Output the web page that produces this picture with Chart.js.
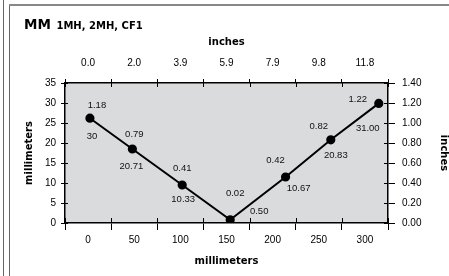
<!DOCTYPE html>
<html lang="en">
    <head>
        <meta charset="UTF-8" />
        <title>MM 1MH, 2MH, CF1</title>
        <script src="https://cdn.jsdelivr.net/npm/chart.js"></script>
        <style>
            html, body { margin: 0; padding: 0; background: #fff; }
            #frame { position: relative; width: 449px; height: 276px; overflow: hidden; }
            #frame canvas { position: absolute; left: 0; top: 0; }
            #outerLine { position: absolute; left: 3px; top: 0; height: 276px; border-left: 1.5px solid #666; }
            #innerLine { position: absolute; left: 9px; top: 4px; height: 272px; border-left: 1.5px solid #666; }
            #topLine { position: absolute; left: 9px; right: 0; top: 4px; border-top: 2px solid #888; }
            #heading {
                position: absolute; left: 24px; top: 17px; line-height: 14px;
                font-family: 'DejaVu Sans', sans-serif; font-weight: bold; color: #000; white-space: nowrap;
            }
            #heading .big { font-size: 13.5px; }
            #heading .small { font-size: 10px; }
        </style>
    </head>
    <body>
        <div id="frame">
            <canvas id="chart" width="449" height="276"></canvas>
            <div id="outerLine"></div>
            <div id="innerLine"></div>
            <div id="topLine"></div>
            <div id="heading"><span class="big">MM</span> <span class="small">1MH, 2MH, CF1</span></div>
        </div>

        <script>
            // where the points sit (mm along, mm up), as drawn in the picture
            const mmAlong = [2, 48, 102, 154, 214, 263, 315];
            const mmUp = [26.2, 18.5, 9.5, 0.8, 11.5, 20.8, 29.9];
            // printed values beside each point
            const inchLabels = ['1.18', '0.79', '0.41', '0.02', '0.42', '0.82', '1.22'];
            const mmLabels = ['30', '20.71', '10.33', '0.50', '10.67', '20.83', '31.00'];
            // axis ticks
            const bottomTicks = [0, 50, 100, 150, 200, 250, 300];
            const topTickLabels = ['0.0', '2.0', '3.9', '5.9', '7.9', '9.8', '11.8'];
            const leftTicks = [0, 5, 10, 15, 20, 25, 30, 35];
            const rightTicks = [0, 0.2, 0.4, 0.6, 0.8, 1.0, 1.2, 1.4];
            const rightTickLabels = ['0.00', '0.20', '0.40', '0.60', '0.80', '1.00', '1.20', '1.40'];

            const tickFont = { family: "'Liberation Sans', Arial, sans-serif", size: 10 };
            const titleFont = { family: "'DejaVu Sans', sans-serif", size: 10, weight: 'bold' };

            const plotBackground = {
                id: 'plotBackground',
                beforeDraw(chart) {
                    const { ctx, chartArea: a } = chart;
                    ctx.save();
                    ctx.fillStyle = '#dadbdc';
                    ctx.fillRect(a.left, a.top, a.right - a.left, a.bottom - a.top);
                    ctx.restore();
                },
            };

            // tick marks in the original cross the axis line, so add the inner half
            const innerTicks = {
                id: 'innerTicks',
                afterDraw(chart) {
                    const { ctx, chartArea: a, scales } = chart;
                    ctx.save();
                    ctx.strokeStyle = '#000';
                    ctx.lineWidth = 1;
                    ctx.beginPath();
                    ['x', 'x2'].forEach((id) => {
                        const s = scales[id];
                        const t = s.ticks.map((k) => k.value);
                        const half = (t[1] - t[0]) / 2;
                        const edges = [t[0] - half].concat(t.map((v) => v + half));
                        edges.forEach((v) => {
                            const px = Math.round(s.getPixelForValue(v)) + 0.5;
                            if (id === 'x') {
                                ctx.moveTo(px, a.bottom);
                                ctx.lineTo(px, a.bottom - 5);
                            } else {
                                ctx.moveTo(px, a.top);
                                ctx.lineTo(px, a.top + 4);
                            }
                        });
                    });
                    scales.y.ticks.forEach((k) => {
                        const py = Math.round(scales.y.getPixelForValue(k.value)) + 0.5;
                        ctx.moveTo(a.left, py);
                        ctx.lineTo(a.left + 3, py);
                    });
                    scales.y2.ticks.forEach((k) => {
                        const py = Math.round(scales.y2.getPixelForValue(k.value)) + 0.5;
                        ctx.moveTo(a.right, py);
                        ctx.lineTo(a.right - 4, py);
                    });
                    ctx.stroke();
                    ctx.restore();
                },
            };

            const pointLabels = {
                id: 'pointLabels',
                afterDatasetsDraw(chart, args, opts) {
                    const ctx = chart.ctx;
                    const meta = chart.getDatasetMeta(0);
                    ctx.save();
                    ctx.font = "9.5px 'Liberation Sans', Arial, sans-serif";
                    ctx.fillStyle = '#111';
                    ctx.textAlign = 'center';
                    ctx.textBaseline = 'middle';
                    meta.data.forEach((pt, i) => {
                        const up = opts.upper[i];
                        const low = opts.lower[i];
                        ctx.fillText(inchLabels[i], pt.x + up[0], pt.y + up[1]);
                        ctx.fillText(mmLabels[i], pt.x + low[0], pt.y + low[1]);
                    });
                    ctx.restore();
                },
            };

            function setTicks(values) {
                return (scale) => {
                    scale.ticks = values.map((v) => ({ value: v }));
                };
            }

            new Chart(document.getElementById('chart'), {
                type: 'scatter',
                data: {
                    datasets: [
                        {
                            data: mmAlong.map((x, i) => ({ x: x, y: mmUp[i] })),
                            showLine: true,
                            borderColor: '#000',
                            borderWidth: 2,
                            backgroundColor: '#000',
                            pointRadius: 3.6,
                            pointHoverRadius: 3.6,
                            xAxisID: 'x',
                            yAxisID: 'y',
                        },
                    ],
                },
                options: {
                    responsive: false,
                    animation: false,
                    layout: { padding: { left: 10, right: 0, top: 30, bottom: 8 } },
                    plugins: {
                        legend: { display: false },
                        tooltip: { enabled: false },
                        pointLabels: {
                            upper: [[7, -13], [2, -15], [0, -17], [5, -26], [-10, -17], [-12, -13], [-21, -4]],
                            lower: [[2, 18], [-1, 17], [1, 14], [29, -8], [13, 11], [5, 16], [-11, 25]],
                        },
                    },
                    scales: {
                        x: {
                            type: 'linear',
                            position: 'bottom',
                            min: -25,
                            max: 325,
                            afterBuildTicks: setTicks(bottomTicks),
                            afterFit: (s) => { s.height = 45; },
                            ticks: {
                                callback: (v, i) => String(bottomTicks[i]),
                                font: tickFont,
                                color: '#000',
                                padding: 4,
                                maxRotation: 0,
                                autoSkip: false,
                            },
                            grid: { offset: true, drawOnChartArea: false, tickLength: 7, color: '#000' },
                            border: { display: true, color: '#000', width: 1.5 },
                            title: { display: true, text: 'millimeters', font: titleFont, color: '#000', padding: { top: 0, bottom: 1 } },
                        },
                        x2: {
                            type: 'linear',
                            position: 'top',
                            min: -25,
                            max: 325,
                            afterBuildTicks: setTicks(bottomTicks),
                            afterFit: (s) => { s.height = 53; },
                            ticks: {
                                callback: (v, i) => topTickLabels[i],
                                font: tickFont,
                                color: '#000',
                                padding: 10,
                                maxRotation: 0,
                                autoSkip: false,
                            },
                            grid: { offset: true, drawOnChartArea: false, tickLength: 4, color: '#000' },
                            border: { display: true, color: '#000', width: 1.5 },
                            title: { display: true, text: 'inches', font: titleFont, color: '#000', padding: { top: 6, bottom: 0 } },
                        },
                        y: {
                            type: 'linear',
                            position: 'left',
                            min: 0,
                            max: 35,
                            afterBuildTicks: setTicks(leftTicks),
                            afterFit: (s) => { s.width = 55; },
                            ticks: { callback: (v, i) => String(leftTicks[i]), font: tickFont, color: '#000', padding: 5 },
                            grid: { drawOnChartArea: false, tickLength: 4, color: '#000' },
                            border: { display: true, color: '#000', width: 1.5 },
                            title: { display: true, text: 'millimeters', font: titleFont, color: '#000', padding: { top: 13, bottom: 0 } },
                        },
                        y2: {
                            type: 'linear',
                            position: 'right',
                            min: 0,
                            max: 1.4,
                            afterBuildTicks: setTicks(rightTicks),
                            afterFit: (s) => { s.width = 61; },
                            ticks: { callback: (v, i) => rightTickLabels[i], font: tickFont, color: '#000', padding: 7 },
                            grid: { drawOnChartArea: false, tickLength: 7, color: '#000' },
                            border: { display: true, color: '#000', width: 1.5 },
                            title: {
                                display: true,
                                text: 'inches',
                                font: { family: "'DejaVu Sans', sans-serif", size: 10, weight: 'bold', lineHeight: 1 },
                                color: '#000',
                                padding: { top: 0, bottom: 0 },
                            },
                        },
                    },
                },
                plugins: [plotBackground, innerTicks, pointLabels],
            });
        </script>
    </body>
</html>
